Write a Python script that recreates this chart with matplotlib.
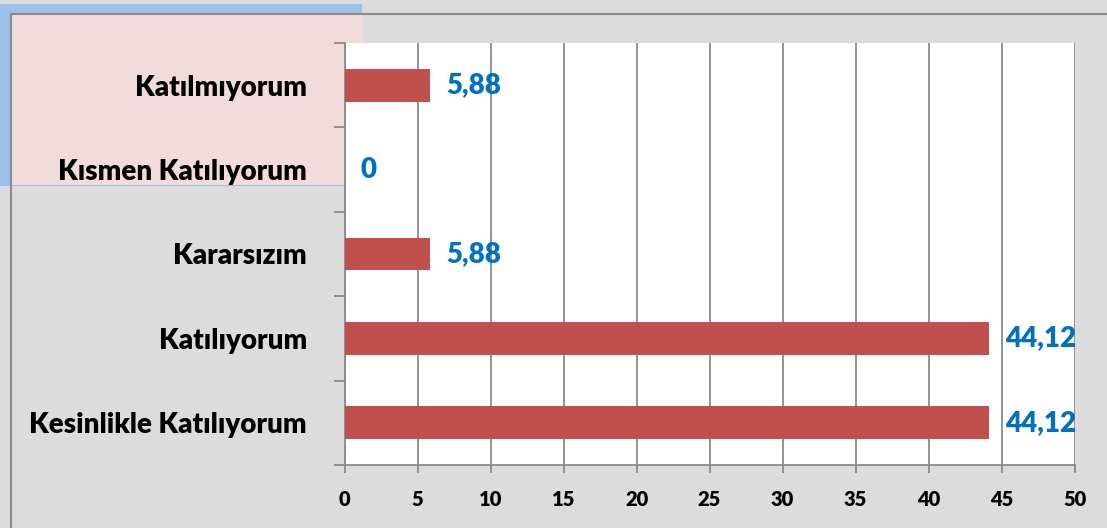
import matplotlib.pyplot as plt
from matplotlib.patches import Rectangle
from matplotlib.lines import Line2D
import numpy as np

# data
categories = ['Kesinlikle Katılıyorum', 'Katılıyorum', 'Kararsızım',
              'Kısmen Katılıyorum', 'Katılmıyorum']
values = [44.12, 44.12, 5.88, 0, 5.88]
value_labels = ['44,12', '44,12', '5,88', '0', '5,88']
xticks = [0, 5, 10, 15, 20, 25, 30, 35, 40, 45, 50]

plt.rcParams['font.family'] = ['Lato', 'DejaVu Sans']
WEIGHT = 'heavy'

W, H = 1107, 528
fig = plt.figure(figsize=(W / 100, H / 100), dpi=100)
fig.patch.set_facecolor('#dcdcdc')

# decorative boxes behind the chart
fig.add_artist(Rectangle((0, 1 - 186 / H), 362 / W, (186 - 4) / H,
                         transform=fig.transFigure, facecolor='#9cc0ea',
                         edgecolor='none', zorder=-3))
fig.add_artist(Rectangle((11 / W, 1 - 185 / H), (362 - 11) / W, (185 - 14) / H,
                         transform=fig.transFigure, facecolor='#f2dcdb',
                         edgecolor='none', zorder=-2))
# chart frame
fig.add_artist(Line2D([11 / W, 11 / W, 1], [0, 1 - 14 / H, 1 - 14 / H],
                      transform=fig.transFigure, color='#8a8a8a', lw=1.5,
                      zorder=-1))

ax = fig.add_axes([344.5 / W, (H - 465) / H, 730 / W, 422 / H])
ax.set_facecolor('white')

y = np.arange(len(categories))
ax.barh(y, values, height=0.39, color='#c0504d', zorder=3)
for yi, v, lab in zip(y, values, value_labels):
    ax.text(v + 1.1, yi, lab, color='#0070c0', fontsize=20, fontweight=WEIGHT,
            va='center', ha='left', clip_on=False, zorder=4)

ax.set_xlim(0, 50)
ax.set_ylim(-0.5, len(categories) - 0.5)
ax.set_xticks(xticks)
ax.set_xticklabels([str(t) for t in xticks], fontsize=14.5, fontweight=WEIGHT)
ax.set_yticks(y)
ax.set_yticklabels(categories, fontsize=20, fontweight=WEIGHT)
ax.set_yticks(np.arange(-0.5, len(categories)), minor=True)

ax.tick_params(axis='y', which='major', length=0, pad=27)
ax.tick_params(axis='y', which='minor', length=8, width=1.3, color='#8a8a8a')
ax.tick_params(axis='x', length=6, width=1.3, color='#8a8a8a', pad=12)

ax.grid(axis='x', color='#8a8a8a', lw=1.3, zorder=1)
ax.set_axisbelow(True)
for s in ['top', 'right']:
    ax.spines[s].set_visible(False)
for s in ['left', 'bottom']:
    ax.spines[s].set_color('#8a8a8a')
    ax.spines[s].set_linewidth(1.3)

fig.savefig('out.png', dpi=100)
